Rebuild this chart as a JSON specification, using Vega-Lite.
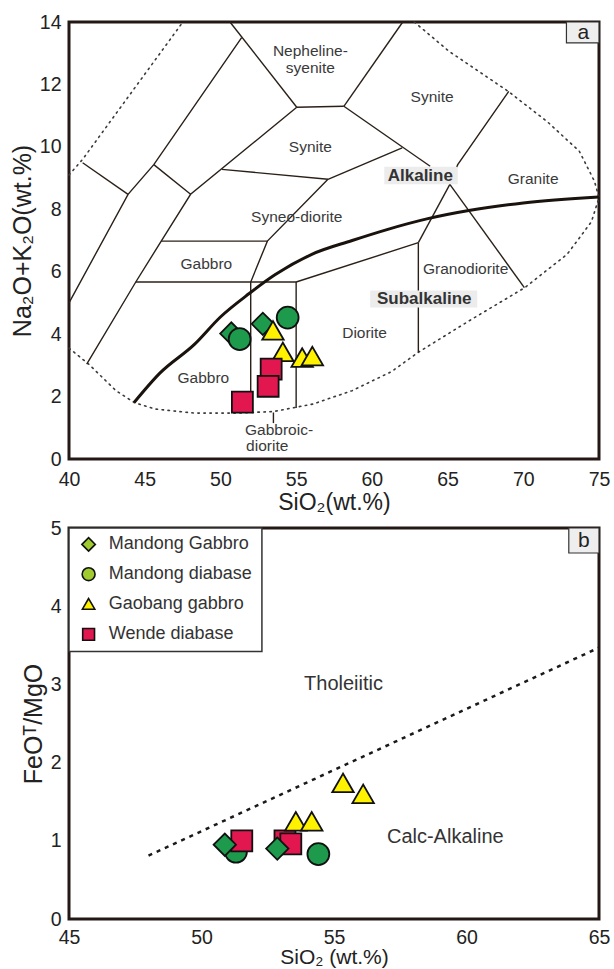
{
  "$schema": "https://vega.github.io/schema/vega-lite/v6.json",
  "background": "white",
  "padding": {"left": 8, "top": 10, "right": 5, "bottom": 0},
  "spacing": 0,
  "config": {
    "view": {"stroke": "#231815", "strokeWidth": 3},
    "axis": {"domain": false, "grid": false, "ticks": false, "labelFont": "Liberation Sans", "labelFontSize": 19.5, "titleFont": "Liberation Sans", "titleFontSize": 23, "titleFontWeight": "normal", "labelColor": "#222", "titleColor": "#222", "labelOverlap": false, "labelFlush": false},
    "text": {"font": "Liberation Sans"}
  },
  "datasets": {
    "tasThin": [
      {"seg": "s1", "i": 0, "x": 40, "y": 5.0}, {"seg": "s1", "i": 1, "x": 43.9, "y": 8.48}, {"seg": "s1", "i": 2, "x": 45.6, "y": 9.43}, {"seg": "s1", "i": 3, "x": 51.4, "y": 13.5},
      {"seg": "s2", "i": 0, "x": 40.9, "y": 9.49}, {"seg": "s2", "i": 1, "x": 43.9, "y": 8.48},
      {"seg": "s3", "i": 0, "x": 41.17, "y": 3.04}, {"seg": "s3", "i": 1, "x": 44.41, "y": 5.67}, {"seg": "s3", "i": 2, "x": 46.09, "y": 6.98}, {"seg": "s3", "i": 3, "x": 48.03, "y": 8.48}, {"seg": "s3", "i": 4, "x": 55.04, "y": 11.27},
      {"seg": "s4", "i": 0, "x": 45.6, "y": 9.43}, {"seg": "s4", "i": 1, "x": 48.03, "y": 8.48},
      {"seg": "s5", "i": 0, "x": 50.1, "y": 9.28}, {"seg": "s5", "i": 1, "x": 57.1, "y": 8.96},
      {"seg": "s6", "i": 0, "x": 57.1, "y": 8.96}, {"seg": "s6", "i": 1, "x": 62.0, "y": 9.97},
      {"seg": "s7", "i": 0, "x": 57.1, "y": 8.96}, {"seg": "s7", "i": 1, "x": 53.1, "y": 6.98}, {"seg": "s7", "i": 2, "x": 52.0, "y": 5.67}, {"seg": "s7", "i": 3, "x": 52.0, "y": 1.5},
      {"seg": "s8", "i": 0, "x": 46.09, "y": 6.98}, {"seg": "s8", "i": 1, "x": 53.1, "y": 6.98},
      {"seg": "s9", "i": 0, "x": 44.41, "y": 5.67}, {"seg": "s9", "i": 1, "x": 55.0, "y": 5.67},
      {"seg": "s10", "i": 0, "x": 55.0, "y": 5.67}, {"seg": "s10", "i": 1, "x": 55.0, "y": 1.63},
      {"seg": "s11", "i": 0, "x": 55.0, "y": 5.67}, {"seg": "s11", "i": 1, "x": 63.07, "y": 6.93},
      {"seg": "s12", "i": 0, "x": 63.07, "y": 6.93}, {"seg": "s12", "i": 1, "x": 63.07, "y": 3.42},
      {"seg": "s13", "i": 0, "x": 63.07, "y": 6.93}, {"seg": "s13", "i": 1, "x": 65.15, "y": 8.8},
      {"seg": "s14", "i": 0, "x": 65.15, "y": 8.8}, {"seg": "s14", "i": 1, "x": 70.07, "y": 5.49},
      {"seg": "s15", "i": 0, "x": 65.15, "y": 8.8}, {"seg": "s15", "i": 1, "x": 65.67, "y": 9.43}, {"seg": "s15", "i": 2, "x": 69.04, "y": 11.78},
      {"seg": "s16", "i": 0, "x": 58.15, "y": 11.3}, {"seg": "s16", "i": 1, "x": 63.85, "y": 9.38},
      {"seg": "s17", "i": 0, "x": 55.04, "y": 11.27}, {"seg": "s17", "i": 1, "x": 58.15, "y": 11.3},
      {"seg": "s18", "i": 0, "x": 50.63, "y": 14}, {"seg": "s18", "i": 1, "x": 55.04, "y": 11.27},
      {"seg": "s19", "i": 0, "x": 58.15, "y": 11.3}, {"seg": "s19", "i": 1, "x": 62.04, "y": 14},
      {"seg": "s20", "i": 0, "x": 53.5, "y": 1.49}, {"seg": "s20", "i": 1, "x": 53.5, "y": 1.15}
    ],
    "tasThick": [
      {"i": 0, "x": 44.3, "y": 1.81}, {"i": 1, "x": 46.0, "y": 2.75}, {"i": 2, "x": 48.3, "y": 3.68}, {"i": 3, "x": 50.0, "y": 4.55}, {"i": 4, "x": 51.9, "y": 5.3}, {"i": 5, "x": 53.6, "y": 5.9}, {"i": 6, "x": 56.0, "y": 6.55}, {"i": 7, "x": 58.7, "y": 7.0}, {"i": 8, "x": 61.0, "y": 7.35}, {"i": 9, "x": 63.7, "y": 7.7}, {"i": 10, "x": 66.4, "y": 7.96}, {"i": 11, "x": 70.0, "y": 8.2}, {"i": 12, "x": 75.0, "y": 8.39}
    ],
    "tasDotted": [
      {"seg": "ul", "i": 0, "x": 40, "y": 9.1}, {"seg": "ul", "i": 1, "x": 40.9, "y": 9.6}, {"seg": "ul", "i": 2, "x": 47.52, "y": 14},
      {"seg": "lo", "i": 0, "x": 40, "y": 3.55}, {"seg": "lo", "i": 1, "x": 41.3, "y": 3.04}, {"seg": "lo", "i": 2, "x": 43.1, "y": 2.19}, {"seg": "lo", "i": 3, "x": 44.3, "y": 1.81}, {"seg": "lo", "i": 4, "x": 45.7, "y": 1.6}, {"seg": "lo", "i": 5, "x": 48.3, "y": 1.47}, {"seg": "lo", "i": 6, "x": 50.9, "y": 1.47}, {"seg": "lo", "i": 7, "x": 53.5, "y": 1.52}, {"seg": "lo", "i": 8, "x": 56.1, "y": 1.76}, {"seg": "lo", "i": 9, "x": 58.7, "y": 2.19}, {"seg": "lo", "i": 10, "x": 61.3, "y": 2.8}, {"seg": "lo", "i": 11, "x": 63.07, "y": 3.42}, {"seg": "lo", "i": 12, "x": 66.4, "y": 4.42}, {"seg": "lo", "i": 13, "x": 70.1, "y": 5.49}, {"seg": "lo", "i": 14, "x": 72.9, "y": 6.56}, {"seg": "lo", "i": 15, "x": 74.5, "y": 7.6}, {"seg": "lo", "i": 16, "x": 75, "y": 8.37},
      {"seg": "ur", "i": 0, "x": 62.8, "y": 14}, {"seg": "ur", "i": 1, "x": 65.1, "y": 13.06}, {"seg": "ur", "i": 2, "x": 69.0, "y": 11.78}, {"seg": "ur", "i": 3, "x": 71.6, "y": 10.8}, {"seg": "ur", "i": 4, "x": 73.7, "y": 9.86}, {"seg": "ur", "i": 5, "x": 74.7, "y": 8.9}, {"seg": "ur", "i": 6, "x": 75, "y": 8.37}
    ],
    "tasLabels": [
      {"x": 55.94, "y": 13.06, "label": "Nepheline-"}, {"x": 55.94, "y": 12.53, "label": "syenite"},
      {"x": 63.98, "y": 11.6, "label": "Synite"}, {"x": 55.94, "y": 9.99, "label": "Synite"},
      {"x": 70.65, "y": 8.96, "label": "Granite"}, {"x": 55.04, "y": 7.76, "label": "Syneo-diorite"},
      {"x": 49.07, "y": 6.24, "label": "Gabbro"}, {"x": 66.19, "y": 6.08, "label": "Granodiorite"},
      {"x": 59.52, "y": 4.05, "label": "Diorite"}, {"x": 48.87, "y": 2.61, "label": "Gabbro"},
      {"x": 53.87, "y": 0.94, "label": "Gabbroic-"}, {"x": 53.09, "y": 0.43, "label": "diorite"}
    ],
    "tasSeries": [
      {"x": 63.2, "y": 9.06, "label": "Alkaline", "x1": 60.82, "x2": 65.67, "y1": 8.8, "y2": 9.36},
      {"x": 63.46, "y": 5.14, "label": "Subalkaline", "x1": 59.89, "x2": 66.96, "y1": 4.85, "y2": 5.4}
    ],
    "panelTagA": [{"x": 73.96, "y": 13.66, "label": "a", "x1": 72.85, "x2": 75, "y1": 13.33, "y2": 14}],
    "panelTagB": [{"x": 64.43, "y": 4.835, "label": "b", "x1": 63.86, "x2": 65, "y1": 4.68, "y2": 5}],
    "samplesA": [
      {"group": "Mandong Gabbro", "x": 50.72, "y": 4.02}, {"group": "Mandong Gabbro", "x": 52.8, "y": 4.33},
      {"group": "Mandong diabase", "x": 51.27, "y": 3.84}, {"group": "Mandong diabase", "x": 54.44, "y": 4.53},
      {"group": "Gaobang gabbro", "x": 53.47, "y": 4.12}, {"group": "Gaobang gabbro", "x": 54.12, "y": 3.43}, {"group": "Gaobang gabbro", "x": 55.4, "y": 3.25}, {"group": "Gaobang gabbro", "x": 56.07, "y": 3.3},
      {"group": "Wende diabase", "x": 53.35, "y": 2.88}, {"group": "Wende diabase", "x": 53.15, "y": 2.33}, {"group": "Wende diabase", "x": 51.45, "y": 1.82}
    ],
    "samplesB": [
      {"group": "Mandong diabase", "x": 51.3, "y": 0.86}, {"group": "Mandong diabase", "x": 54.41, "y": 0.83},
      {"group": "Wende diabase", "x": 51.52, "y": 1.0}, {"group": "Wende diabase", "x": 53.15, "y": 1.0}, {"group": "Wende diabase", "x": 53.37, "y": 0.96},
      {"group": "Mandong Gabbro", "x": 50.88, "y": 0.95}, {"group": "Mandong Gabbro", "x": 52.86, "y": 0.9},
      {"group": "Gaobang gabbro", "x": 53.56, "y": 1.25}, {"group": "Gaobang gabbro", "x": 54.16, "y": 1.25}, {"group": "Gaobang gabbro", "x": 55.34, "y": 1.74}, {"group": "Gaobang gabbro", "x": 56.1, "y": 1.6}
    ],
    "fmLine": [{"x": 48, "y": 0.81}, {"x": 65, "y": 3.47}],
    "fmLabels": [{"x": 55.36, "y": 3.01, "label": "Tholeiitic"}, {"x": 59.2, "y": 1.05, "label": "Calc-Alkaline"}],
    "legendBox": [{"x1": 45, "x2": 52.28, "y1": 3.42, "y2": 5}],
    "legendItems": [
      {"group": "Mandong Gabbro", "x": 45.74, "tx": 46.5, "y": 4.79, "label": "Mandong Gabbro"},
      {"group": "Mandong diabase", "x": 45.74, "tx": 46.5, "y": 4.41, "label": "Mandong diabase"},
      {"group": "Gaobang gabbro", "x": 45.74, "tx": 46.5, "y": 4.03, "label": "Gaobang gabbro"},
      {"group": "Wende diabase", "x": 45.74, "tx": 46.5, "y": 3.64, "label": "Wende diabase"}
    ],
    "ticksAx": [{"v":41},{"v":42},{"v":43},{"v":44},{"v":45},{"v":46},{"v":47},{"v":48},{"v":49},{"v":50},{"v":51},{"v":52},{"v":53},{"v":54},{"v":55},{"v":56},{"v":57},{"v":58},{"v":59},{"v":60},{"v":61},{"v":62},{"v":63},{"v":64},{"v":65},{"v":66},{"v":67},{"v":68},{"v":69},{"v":70},{"v":71},{"v":72},{"v":73},{"v":74}],
    "ticksAy": [{"v":1},{"v":2},{"v":3},{"v":4},{"v":5},{"v":6},{"v":7},{"v":8},{"v":9},{"v":10},{"v":11},{"v":12},{"v":13}],
    "ticksBx": [{"v":46},{"v":47},{"v":48},{"v":49},{"v":50},{"v":51},{"v":52},{"v":53},{"v":54},{"v":55},{"v":56},{"v":57},{"v":58},{"v":59},{"v":60},{"v":61},{"v":62},{"v":63},{"v":64}],
    "ticksBy": [{"v":1},{"v":2},{"v":3},{"v":4}]
  },
  "vconcat": [
    {
      "width": 530,
      "height": 437,
      "encoding": {
        "x": {"field": "x", "type": "quantitative", "scale": {"domain": [40, 75], "nice": false, "zero": false}, "axis": null},
        "y": {"field": "y", "type": "quantitative", "scale": {"domain": [0, 14], "nice": false, "zero": false}, "axis": null}
      },
      "resolve": {"axis": {"x": "independent", "y": "independent"}},
      "layer": [
        {"data": {"name": "tasDotted"}, "mark": {"type": "line", "stroke": "#3a3a3a", "strokeWidth": 1.6, "strokeDash": [1.5, 4.5], "strokeCap": "round"},
          "encoding": {"detail": {"field": "seg"}, "order": {"field": "i", "type": "quantitative"}}},
        {"data": {"name": "tasThin"}, "mark": {"type": "line", "stroke": "#2b2018", "strokeWidth": 1.4},
          "encoding": {
            "x": {"field": "x", "type": "quantitative", "scale": {"domain": [40, 75], "nice": false, "zero": false},
              "axis": {"orient": "bottom", "values": [40,45,50,55,60,65,70,75], "labelPadding": 11, "title": "SiO₂(wt.%)", "titlePadding": 3}},
            "y": {"field": "y", "type": "quantitative", "scale": {"domain": [0, 14], "nice": false, "zero": false},
              "axis": {"orient": "left", "values": [0,2,4,6,8,10,12,14], "labelPadding": 8, "title": "Na₂O+K₂O(wt.%)", "titleFontSize": 25, "titlePadding": 4}},
            "detail": {"field": "seg"}, "order": {"field": "i", "type": "quantitative"}}},
        {"data": {"name": "tasThick"}, "mark": {"type": "line", "stroke": "#1a120c", "strokeWidth": 3, "interpolate": "monotone"},
          "encoding": {"order": {"field": "i", "type": "quantitative"}}},
        {"data": {"name": "tasSeries"}, "mark": {"type": "rect", "fill": "#ececec"},
          "encoding": {"x": {"field": "x1", "type": "quantitative", "axis": null}, "x2": {"field": "x2"}, "y": {"field": "y1", "type": "quantitative", "axis": null}, "y2": {"field": "y2"}}},
        {"data": {"name": "tasSeries"}, "mark": {"type": "text", "fontSize": 17, "fontWeight": "bold", "fill": "#333"},
          "encoding": {"text": {"field": "label"}}},
        {"data": {"name": "tasLabels"}, "mark": {"type": "text", "fontSize": 15.5, "fill": "#3a3a3a"},
          "encoding": {"text": {"field": "label"}}},
        {"data": {"name": "panelTagA"}, "mark": {"type": "rect", "fill": "#eeeeee", "stroke": "#333", "strokeWidth": 1.2},
          "encoding": {"x": {"field": "x1", "type": "quantitative", "axis": null}, "x2": {"field": "x2"}, "y": {"field": "y1", "type": "quantitative", "axis": null}, "y2": {"field": "y2"}}},
        {"data": {"name": "panelTagA"}, "mark": {"type": "text", "fontSize": 21, "fill": "#222"},
          "encoding": {"text": {"field": "label"}}},
        {"data": {"name": "samplesA"}, "mark": {"type": "point", "filled": true, "stroke": "#111", "strokeWidth": 1.8, "opacity": 1},
          "encoding": {
            "shape": {"field": "group", "type": "nominal", "scale": {"domain": ["Mandong Gabbro", "Mandong diabase", "Gaobang gabbro", "Wende diabase"], "range": ["diamond", "circle", "triangle-up", "square"]}, "legend": null},
            "fill": {"field": "group", "type": "nominal", "scale": {"domain": ["Mandong Gabbro", "Mandong diabase", "Gaobang gabbro", "Wende diabase"], "range": ["#1d9a4c", "#1d9a4c", "#fff200", "#e3174f"]}, "legend": null},
            "size": {"field": "group", "type": "ordinal", "scale": {"domain": ["Mandong Gabbro", "Mandong diabase", "Gaobang gabbro", "Wende diabase"], "range": [500, 440, 440, 400]}, "legend": null}
          }},
        {"data": {"name": "ticksAx"}, "transform": [{"filter": "datum.v % 5 === 0"}], "mark": {"type": "rule", "stroke": "#231815", "strokeWidth": 2},
          "encoding": {"x": {"field": "v", "type": "quantitative", "axis": null}, "y": {"datum": 0, "axis": null}, "y2": {"datum": 0.32}}},
        {"data": {"name": "ticksAx"}, "transform": [{"filter": "datum.v % 5 !== 0"}], "mark": {"type": "rule", "stroke": "#231815", "strokeWidth": 2},
          "encoding": {"x": {"field": "v", "type": "quantitative", "axis": null}, "y": {"datum": 0, "axis": null}, "y2": {"datum": 0.19}}},
        {"data": {"name": "ticksAy"}, "transform": [{"filter": "datum.v % 2 === 0"}], "mark": {"type": "rule", "stroke": "#231815", "strokeWidth": 2},
          "encoding": {"y": {"field": "v", "type": "quantitative", "axis": null}, "x": {"datum": 40, "axis": null}, "x2": {"datum": 40.65}}},
        {"data": {"name": "ticksAy"}, "transform": [{"filter": "datum.v % 2 !== 0"}], "mark": {"type": "rule", "stroke": "#231815", "strokeWidth": 2},
          "encoding": {"y": {"field": "v", "type": "quantitative", "axis": null}, "x": {"datum": 40, "axis": null}, "x2": {"datum": 40.38}}}
      ]
    },
    {
      "width": 530,
      "height": 391,
      "encoding": {
        "x": {"field": "x", "type": "quantitative", "scale": {"domain": [45, 65], "nice": false, "zero": false}, "axis": null},
        "y": {"field": "y", "type": "quantitative", "scale": {"domain": [0, 5], "nice": false, "zero": false}, "axis": null}
      },
      "resolve": {"scale": {"fill": "independent", "size": "independent"}, "axis": {"x": "independent", "y": "independent"}},
      "layer": [
        {"data": {"name": "fmLine"}, "mark": {"type": "line", "stroke": "#1a1a1a", "strokeWidth": 2.5, "strokeDash": [4, 5]}, "encoding": {}},
        {"data": {"name": "legendBox"}, "mark": {"type": "rect", "fill": "white", "stroke": "#333", "strokeWidth": 1.5},
          "encoding": {"x": {"field": "x1", "type": "quantitative", "axis": null}, "x2": {"field": "x2"}, "y": {"field": "y1", "type": "quantitative", "axis": null}, "y2": {"field": "y2"}}},
        {"data": {"name": "legendItems"}, "mark": {"type": "point", "filled": true, "stroke": "#111", "strokeWidth": 1.6, "opacity": 1},
          "encoding": {
            "shape": {"field": "group", "type": "nominal", "scale": {"domain": ["Mandong Gabbro", "Mandong diabase", "Gaobang gabbro", "Wende diabase"], "range": ["diamond", "circle", "triangle-up", "square"]}, "legend": null},
            "fill": {"field": "group", "type": "nominal", "scale": {"domain": ["Mandong Gabbro", "Mandong diabase", "Gaobang gabbro", "Wende diabase"], "range": ["#9fcb2f", "#9fcb2f", "#fff200", "#e3174f"]}, "legend": null},
            "size": {"field": "group", "type": "ordinal", "scale": {"domain": ["Mandong Gabbro", "Mandong diabase", "Gaobang gabbro", "Wende diabase"], "range": [180, 140, 170, 140]}, "legend": null}
          }},
        {"data": {"name": "legendItems"}, "mark": {"type": "text", "fontSize": 18, "fill": "#333", "align": "left"},
          "encoding": {"x": {"field": "tx", "type": "quantitative", "axis": null}, "text": {"field": "label"}}},
        {"data": {"name": "fmLabels"}, "mark": {"type": "text", "fontSize": 20, "fill": "#333"},
          "encoding": {"text": {"field": "label"}}},
        {"data": {"name": "panelTagB"}, "mark": {"type": "rect", "fill": "#eeeeee", "stroke": "#333", "strokeWidth": 1.2},
          "encoding": {"x": {"field": "x1", "type": "quantitative", "axis": null}, "x2": {"field": "x2"}, "y": {"field": "y1", "type": "quantitative", "axis": null}, "y2": {"field": "y2"}}},
        {"data": {"name": "panelTagB"}, "mark": {"type": "text", "fontSize": 21, "fill": "#222"},
          "encoding": {"text": {"field": "label"}}},
        {"data": {"name": "samplesB"}, "mark": {"type": "point", "filled": true, "stroke": "#111", "strokeWidth": 1.8, "opacity": 1},
          "encoding": {
            "x": {"field": "x", "type": "quantitative", "scale": {"domain": [45, 65], "nice": false, "zero": false},
              "axis": {"orient": "bottom", "values": [45,50,55,60,65], "labelPadding": 9, "title": "SiO₂ (wt.%)", "titleFontSize": 21, "titlePadding": 0}},
            "y": {"field": "y", "type": "quantitative", "scale": {"domain": [0, 5], "nice": false, "zero": false},
              "axis": {"orient": "left", "values": [0,1,2,3,4,5], "labelPadding": 8, "title": "FeOᵀ/MgO", "titleFontSize": 25, "titlePadding": 4}},
            "shape": {"field": "group", "type": "nominal", "scale": {"domain": ["Mandong Gabbro", "Mandong diabase", "Gaobang gabbro", "Wende diabase"], "range": ["diamond", "circle", "triangle-up", "square"]}, "legend": null},
            "fill": {"field": "group", "type": "nominal", "scale": {"domain": ["Mandong Gabbro", "Mandong diabase", "Gaobang gabbro", "Wende diabase"], "range": ["#1d9a4c", "#1d9a4c", "#fff200", "#e3174f"]}, "legend": null},
            "size": {"field": "group", "type": "ordinal", "scale": {"domain": ["Mandong Gabbro", "Mandong diabase", "Gaobang gabbro", "Wende diabase"], "range": [500, 440, 440, 400]}, "legend": null}
          }},
        {"data": {"name": "ticksBx"}, "transform": [{"filter": "datum.v % 5 === 0"}], "mark": {"type": "rule", "stroke": "#231815", "strokeWidth": 2},
          "encoding": {"x": {"field": "v", "type": "quantitative", "axis": null}, "y": {"datum": 0, "axis": null}, "y2": {"datum": 0.125}}},
        {"data": {"name": "ticksBx"}, "transform": [{"filter": "datum.v % 5 !== 0"}], "mark": {"type": "rule", "stroke": "#231815", "strokeWidth": 2},
          "encoding": {"x": {"field": "v", "type": "quantitative", "axis": null}, "y": {"datum": 0, "axis": null}, "y2": {"datum": 0.075}}},
        {"data": {"name": "ticksBy"}, "mark": {"type": "rule", "stroke": "#231815", "strokeWidth": 2},
          "encoding": {"y": {"field": "v", "type": "quantitative", "axis": null}, "x": {"datum": 45, "axis": null}, "x2": {"datum": 45.3}}}
      ]
    }
  ]
}
